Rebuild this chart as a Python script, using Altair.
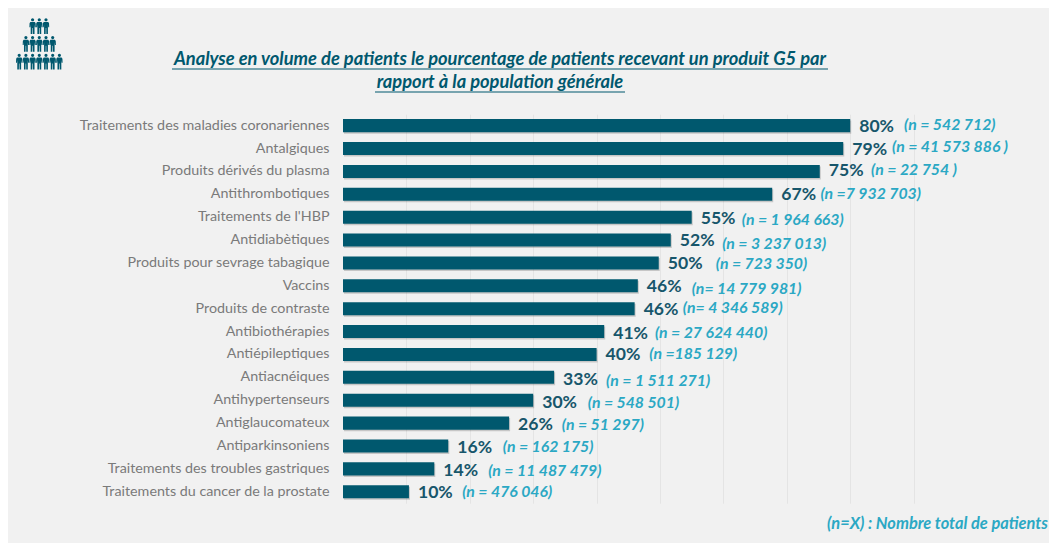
import altair as alt
import pandas as pd

categories = ["Traitements des maladies coronariennes", "Antalgiques", "Produits dérivés du plasma",
              "Antithrombotiques", "Traitements de l'HBP", "Antidiabètiques", "Produits pour sevrage tabagique",
              "Vaccins", "Produits de contraste", "Antibiothérapies", "Antiépileptiques", "Antiacnéiques",
              "Antihypertenseurs", "Antiglaucomateux", "Antiparkinsoniens", "Traitements des troubles gastriques",
              "Traitements du cancer de la prostate"]
values = [80.0, 78.9, 75.2, 67.7, 55.0, 51.7, 49.8, 46.5, 46.0, 41.2, 40.0, 33.3, 30.0, 26.2, 16.6, 14.4, 10.4]
pct_labels = ["80%", "79%", "75%", "67%", "55%", "52%", "50%", "46%", "46%", "41%", "40%", "33%", "30%", "26%",
              "16%", "14%", "10%"]
n_labels = ["(n = 542 712)", "(n = 41 573 886 )", "(n = 22 754 )", "(n =7 932 703)", "(n = 1 964 663)",
            "(n = 3 237 013)", "(n = 723 350)", "(n= 14 779 981)", "(n= 4 346 589)", "(n = 27 624 440)",
            "(n =185 129)", "(n = 1 511 271)", "(n = 548 501)", "(n = 51 297)", "(n = 162 175)",
            "(n = 11 487 479)", "(n = 476 046)"]
# where each hand-placed annotation begins, on the percentage scale, and how far it sits off its row
n_start = [88.5, 86.6, 83.3, 75.3, 62.9, 59.8, 58.8, 55.0, 53.6, 49.2, 48.3, 41.5, 38.6, 34.5, 25.2, 22.9, 18.8]
pct_dy = [1, 1, 0, 1, 1.5, 0.5, 0.7, 1, 1, 2, 1, 2.4, 2.5, 1.6, 1.7, 1.9, 1]
n_dy = [-1, -2, -1, -0.6, 2.5, 3.6, 0.7, 3, -1, 1, 0, 3.4, 2.5, 1.6, 0.7, 1.9, 0]

icon_rows = [3, 5, 7]

TITLE_1 = "Analyse en volume de patients le pourcentage de patients recevant un produit G5 par"
TITLE_2 = "rapport à la population générale"
NOTE = "(n=X) : Nombre total de patients"
DARK = "#00586E"
CYAN = "#2BA8C4"
BG = "#F1F1F1"
FONT = "Lato"

df = pd.DataFrame({"cat": categories, "v": values, "pct": pct_labels, "n": n_labels, "nx": n_start,
                   "pd": pct_dy, "nd": n_dy})

y = alt.Y("cat:N", sort=categories, scale=alt.Scale(paddingInner=0.43, paddingOuter=0.215),
          axis=alt.Axis(title=None, ticks=False, domain=False, labelFont=FONT, labelFontSize=14.3,
                        labelColor="#7A7A7A", labelPadding=14, labelLimit=320))
x = alt.X("v:Q", scale=alt.Scale(domain=[0, 100], nice=False),
          axis=alt.Axis(title=None, labels=False, ticks=False, domain=False, values=list(range(10, 100, 10)),
                        grid=True, gridColor="#E4E4E4", gridWidth=1))

shadow = alt.Chart(df).mark_bar(color="#555555", opacity=0.28, xOffset=1, yOffset=1.5).encode(x=x, y=y)
bars = alt.Chart(df).mark_bar(color=DARK).encode(x=x, y=y)
pct = alt.Chart(df).mark_text(align="left", baseline="middle", dx=9, dy=6.5, font=FONT, fontSize=17.6, fontWeight="bold",
                              color="#17566B").encode(x=x, y=y, yOffset=alt.YOffset("pd:Q", scale=None), text="pct:N")
nlab = alt.Chart(df).mark_text(align="left", baseline="middle", dy=6.5, font=FONT, fontSize=15.8, fontWeight="bold",
                               fontStyle="italic", color=CYAN).encode(
    x=alt.X("nx:Q"), y=y, yOffset=alt.YOffset("nd:Q", scale=None), text="n:N")

def txt(s, px, py, size, color, align="center", weight="bold", italic=True):
    return alt.Chart(pd.DataFrame({"t": [s]})).mark_text(
        align=align, baseline="middle", font=FONT, fontSize=size, fontWeight=weight,
        fontStyle="italic" if italic else "normal", color=color
    ).encode(x=alt.value(px), y=alt.value(py), text="t:N")

def rule(px0, px1, py, color):
    return alt.Chart(pd.DataFrame({"a": [0]})).mark_rule(color=color, strokeWidth=1.2).encode(
        x=alt.value(px0), x2=alt.value(px1), y=alt.value(py))

# plot area origin on the page
OX, OY = 343, 114.2
W, H = 634, 389
RIGHT, BOTTOM = 1049, 543

t1 = txt(TITLE_1, 500 - OX, 60 - OY, 18.3, DARK)
u1 = rule(172 - OX, 828 - OX, 69 - OY, DARK)
t2 = txt(TITLE_2, 500 - OX, 83 - OY, 18.3, DARK)
u2 = rule(375 - OX, 625 - OX, 92 - OY, DARK)
note = txt(NOTE, 1048 - OX, 524 - OY, 16.4, CYAN, align="right")

PERSON = ("M-0.2,-0.78 A0.2,0.2 0 1 1 0.2,-0.78 A0.2,0.2 0 1 1 -0.2,-0.78 Z "
          "M-0.28,-0.5 L0.28,-0.5 L0.38,-0.35 L0.4,0.15 L0.28,0.15 L0.24,-0.2 L0.24,1 L0.04,1 L0.03,0.25 "
          "L-0.03,0.25 L-0.04,1 L-0.24,1 L-0.24,-0.2 L-0.28,0.15 L-0.4,0.15 L-0.38,-0.35 Z")
rows = []
for r, count in enumerate(icon_rows):
    for c in range(count):
        rows.append({"c": c - (count - 1) / 2, "r": r})
icon_df = pd.DataFrame(rows)
icon = alt.Chart(icon_df).transform_calculate(
    px=f"{39.3 - OX} + datum.c * 6.7", py=f"{26 - OY} + datum.r * 17.8"
).mark_point(shape=PERSON, filled=True, color=DARK, opacity=1, size=256).encode(
    x=alt.X("px:Q", scale=None), y=alt.Y("py:Q", scale=None))

chart = alt.layer(shadow, bars, pct, nlab, t1, u1, t2, u2, note, icon).properties(
    width=W, height=H, background=BG,
    padding={"left": OX - 8, "top": OY - 8, "right": RIGHT - OX - W, "bottom": BOTTOM - OY - H},
    autosize=alt.AutoSizeParams(type="none"),
).configure_view(stroke=None)

chart.save("out.html", embed_options={"renderer": "svg", "actions": False})
